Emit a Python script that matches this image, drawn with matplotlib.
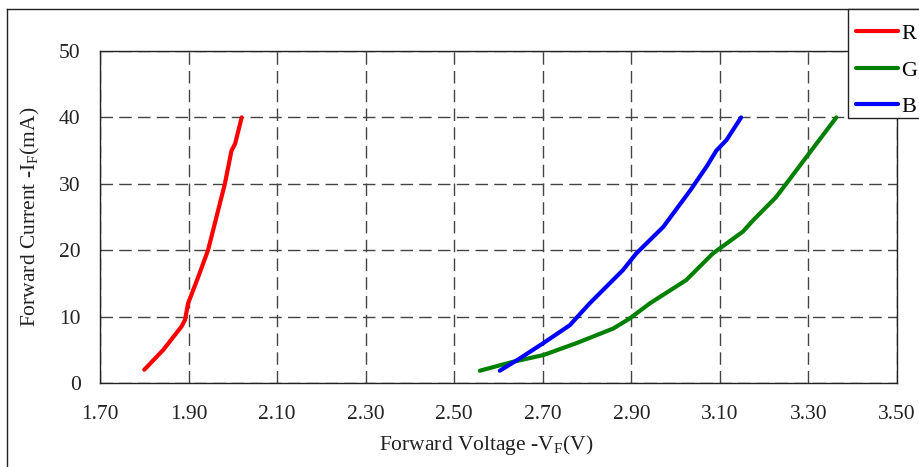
import matplotlib
matplotlib.use("Agg")
import matplotlib.pyplot as plt
from matplotlib.patches import Rectangle
from matplotlib.lines import Line2D

# Data
r_v = [1.80, 1.843, 1.884, 1.892, 1.899, 1.922, 1.944, 1.963, 1.982, 1.997, 2.005, 2.020]
r_i = [2.0, 5.0, 8.5, 9.5, 12.0, 16.0, 20.0, 25.0, 30.0, 35.0, 36.0, 40.0]

g_v = [2.558, 2.633, 2.701, 2.776, 2.859, 2.896, 2.942, 3.024, 3.084, 3.152, 3.175, 3.227, 3.295, 3.363]
g_i = [1.85, 3.2, 4.2, 6.0, 8.2, 9.7, 12.0, 15.5, 19.5, 22.8, 24.5, 28.0, 34.0, 40.0]

b_v = [2.603, 2.648, 2.701, 2.761, 2.806, 2.881, 2.911, 2.972, 3.033, 3.070, 3.092, 3.115, 3.148]
b_i = [1.85, 3.7, 6.0, 8.7, 12.0, 17.0, 19.5, 23.5, 29.0, 32.6, 35.0, 36.6, 40.0]

x_ticks = [1.70, 1.90, 2.10, 2.30, 2.50, 2.70, 2.90, 3.10, 3.30, 3.50]
y_ticks = [0, 10, 20, 30, 40, 50]
series_labels = ["R", "G", "B"]
series_colors = ["#ff0000", "#008000", "#0000ff"]

plt.rcParams['font.family'] = ['Liberation Serif', 'DejaVu Serif']

W, H = 920, 467
fig = plt.figure(figsize=(W / 100, H / 100), dpi=100)
ax = fig.add_axes([100 / W, 1 - 383 / H, (897 - 100) / W, (383 - 51) / H])

for v, i, c in zip([r_v, g_v, b_v], [r_i, g_i, b_i], series_colors):
    ax.plot(v, i, color=c, lw=3, solid_capstyle='round', solid_joinstyle='round', zorder=3)

ax.set_xlim(1.70, 3.50)
ax.set_ylim(0, 50)
ax.set_xticks(x_ticks)
ax.set_xticklabels([f"{t:.2f}" for t in x_ticks])
ax.set_yticks(y_ticks)
ax.set_yticklabels([str(t) for t in y_ticks])
ax.tick_params(axis='both', length=0, labelsize=15.5, colors='#222222')
ax.tick_params(axis='x', pad=16)
ax.tick_params(axis='y', pad=14)
ax.grid(True, color='#444444', lw=1.0, linestyle=(0, (9, 4.5)))
ax.set_axisbelow(True)
for s in ax.spines.values():
    s.set_color('#222222')
    s.set_linewidth(1.0)

ax.set_xlabel(r"Forward Voltage -V$_\mathregular{F}$(V)", fontsize=15.5, color='#222222')
ax.xaxis.set_label_coords(0.485, -0.15)
ax.set_ylabel(r"Forward Current -I$_\mathregular{F}$(mA)", fontsize=15.5, color='#222222', labelpad=12)

# outer frame of the figure
fig.add_artist(Line2D([7 / W, 7 / W], [0, 1 - 9 / H], transform=fig.transFigure, color='#222222', lw=1.0))
fig.add_artist(Line2D([7 / W, 1], [1 - 9 / H, 1 - 9 / H], transform=fig.transFigure, color='#222222', lw=1.0))

# legend box
fig.add_artist(Rectangle((848 / W, 1 - 118 / H), 80 / W, 109 / H, transform=fig.transFigure,
                         facecolor='white', edgecolor='#222222', lw=1.0, zorder=5))
handles = [Line2D([], [], color=c, lw=3, solid_capstyle='round') for c in series_colors]
leg = fig.legend(handles, series_labels, loc='upper left', bbox_to_anchor=(852 / W, 1 - 19 / H),
                 frameon=False, fontsize=16, handlelength=1.85, handletextpad=0.15,
                 labelspacing=0.72, borderaxespad=0, borderpad=0.2)
leg.set_zorder(6)

fig.savefig("out.png", dpi=100)
